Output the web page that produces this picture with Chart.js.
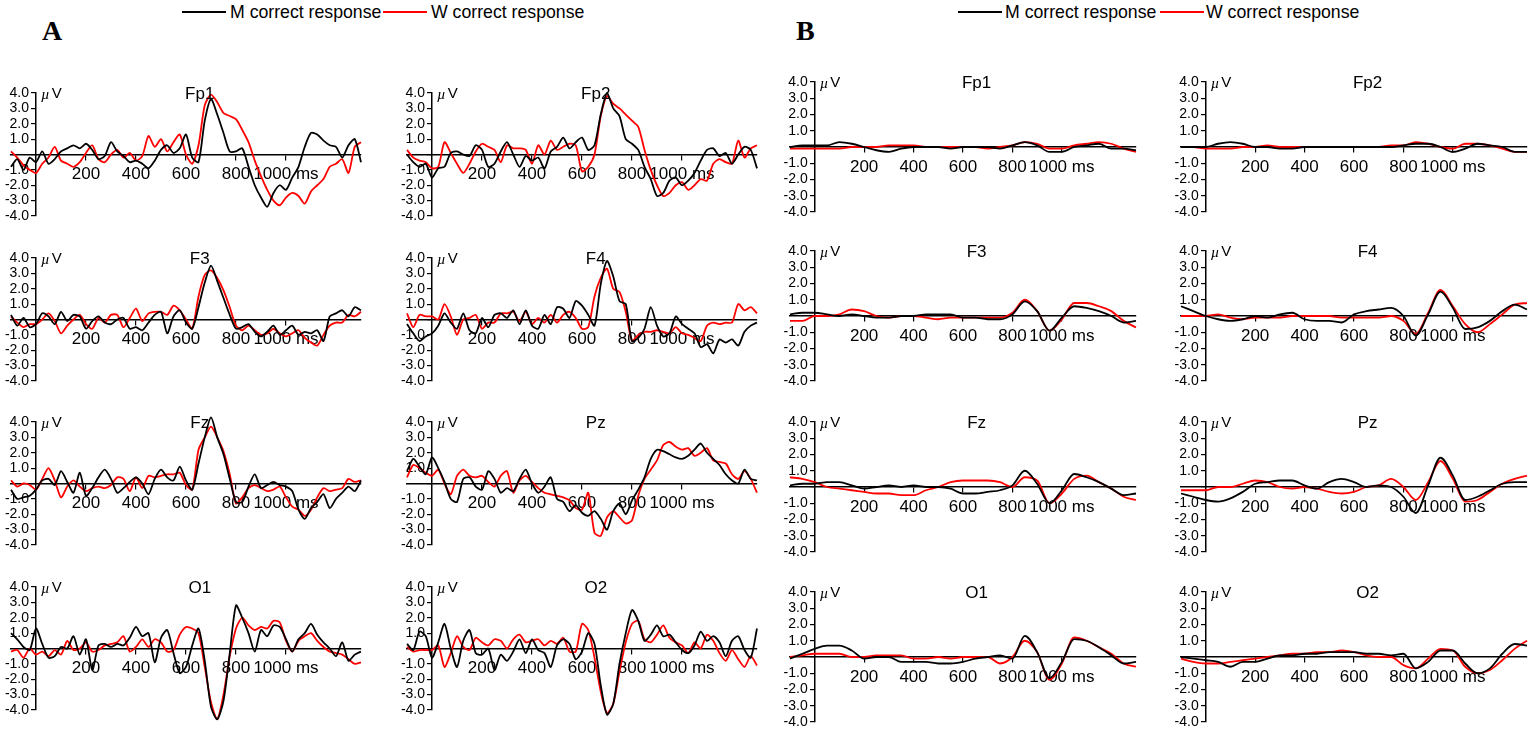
<!DOCTYPE html>
<html>
<head>
<meta charset="utf-8">
<script src="https://cdn.jsdelivr.net/npm/chart.js@4.4.1/dist/chart.umd.min.js"></script>
<style>
  body { margin: 0; background: #fff; width: 1535px; height: 734px; position: relative; overflow: hidden;
         font-family: "Liberation Sans", Arial, sans-serif; }
  canvas { position: absolute; }
  .lg { position: absolute; font-size: 17.7px; line-height: 20px; white-space: nowrap; color: #000; }
  .ln { position: absolute; height: 2px; }
  .pl { position: absolute; font-family: "Liberation Serif", "Times New Roman", serif; font-weight: bold; font-size: 28px; line-height: 28px; }
</style>
</head>
<body>
<div class="pl" style="left:42px;top:17px;">A</div>
<div class="pl" style="left:796px;top:17px;">B</div>

<div class="ln" style="left:182px;top:11px;width:44px;background:#000;"></div>
<div class="lg" style="left:230px;top:2px;">M correct response</div>
<div class="ln" style="left:383px;top:11px;width:44px;background:#f00;"></div>
<div class="lg" style="left:431px;top:2px;">W correct response</div>

<div class="ln" style="left:958px;top:11px;width:44px;background:#000;"></div>
<div class="lg" style="left:1005px;top:2px;">M correct response</div>
<div class="ln" style="left:1160px;top:11px;width:44px;background:#f00;"></div>
<div class="lg" style="left:1206px;top:2px;">W correct response</div>

<script>
// sample times (ms)
const tA = [-100, -75, -50, -25, 0, 25, 50, 75, 100, 125, 150, 175, 200, 225, 250, 275,
    300, 325, 350, 375, 400, 425, 450, 475, 500, 525, 550, 575, 600, 625, 650, 675,
    700, 725, 750, 775, 800, 825, 850, 875, 900, 925, 950, 975, 1000, 1025, 1050, 1075,
    1100, 1125, 1150, 1175, 1200, 1225, 1250, 1275, 1300];
const tB = [-100, -50, 0, 50, 100, 150, 200, 250, 300, 350, 400, 450, 500, 550, 600,
    650, 700, 750, 800, 850, 900, 950, 1000, 1050, 1100, 1150, 1200, 1250, 1300];

const xTicks = [200, 400, 600, 800, 1000];
const channels = ['Fp1', 'Fp2', 'F3', 'F4', 'Fz', 'Pz', 'O1', 'O2'];

// panel A (uV), M = black, W = red
const aFp1M = [-0.8, -0.3, -1.0, -0.2, -0.5, 0.2, -0.6, -0.3, 0.2, 0.4, 0.6, 0.4, 0.7, 0.3, -0.3, -0.1,
    0.8, 0.2, -0.1, -0.5, -0.4, -0.6, -0.9, -0.4, 0.3, 0.6, 0.1, 0.4, 1.3, -0.2, -0.5, 2.2,
    3.6, 2.6, 1.4, 0.2, 0.2, 0.4, -0.8, -2.0, -2.8, -3.4, -2.5, -2.0, -2.3, -1.5, -0.8, 0.5,
    1.4, 1.3, 0.9, 0.6, 0.5, -0.2, 0.6, 1.0, -0.5];
const aFp1W = [0.2, -0.2, -0.7, -1.0, -1.2, -0.6, -0.2, 0.5, -0.4, -0.6, -0.8, -0.5, 0.1, 0.6, -0.3, -0.5,
    0.0, 0.3, -0.2, 0.1, -0.4, -0.1, 1.2, 0.5, 1.0, 0.2, 0.8, 1.3, 0.0, -0.6, 0.6, 3.2,
    3.9, 3.4, 2.7, 2.5, 2.3, 1.6, 0.8, -0.4, -1.4, -2.3, -3.0, -3.3, -2.8, -2.5, -2.7, -3.2,
    -2.4, -2.0, -1.6, -0.8, -0.6, -0.3, -1.2, 0.5, 0.8];
const aFp2M = [0.0, -0.5, -0.8, -0.6, -1.5, -0.9, -0.8, 0.1, 0.2, 0.0, -0.1, 0.6, 0.3, -0.8, -0.6, 0.2,
    0.8, 0.0, -0.8, -0.1, -0.4, -0.2, -0.9, 0.2, 0.5, 1.1, 0.4, 0.8, 1.1, 0.3, 0.6, 2.6,
    4.0, 3.0, 2.5, 1.0, 0.7, 0.3, -0.8, -1.6, -2.7, -2.5, -1.7, -1.5, -2.0, -1.7, -1.2, -0.4,
    0.3, 0.4, -0.1, 0.1, -0.6, 0.0, 0.5, 0.3, -0.9];
const aFp2W = [0.3, -0.2, -0.4, -0.5, -0.9, -0.8, 0.8, 0.1, -0.6, -1.2, -0.6, 0.2, 0.7, 0.5, 0.3, -0.5,
    0.6, 0.4, 0.4, 0.3, -0.6, 0.6, 0.0, 0.9, 0.3, 0.5, 0.7, 0.6, -1.1, -0.8, 0.0, 2.5,
    3.8, 3.3, 3.0, 2.6, 2.2, 1.8, 0.3, -1.0, -2.0, -2.7, -2.5, -2.0, -1.8, -2.3, -2.0, -1.6,
    -1.7, -0.6, -0.3, -0.5, -0.6, 0.9, -0.2, 0.4, 0.6];
const aF3M = [0.3, -0.4, 0.1, -0.5, -0.3, 0.4, 0.2, -0.3, 0.5, -0.1, 0.3, 0.2, -0.6, -0.1, 0.2, -0.2,
    -0.3, 0.0, 0.1, -0.6, -0.5, -0.7, -0.2, 0.3, 0.5, -0.9, 0.2, 0.6, -0.2, -0.6, 0.8, 2.4,
    3.5, 2.5, 1.4, 0.3, -0.6, -0.5, -0.3, -0.8, -1.1, -0.8, -0.4, -1.0, -0.7, -0.4, -1.0, -0.8,
    -0.9, -0.7, -1.4, 0.2, 0.4, 0.6, 0.2, 0.8, 0.6];
const aF3W = [0.2, -0.2, -0.5, -0.3, -0.3, 0.0, 0.4, -0.1, -0.9, -0.4, 0.0, 0.3, -0.3, -0.6, 0.1, -0.2,
    0.3, 0.3, -0.5, 0.1, 0.7, -0.1, 0.4, 0.5, 0.5, 0.3, 0.9, 0.6, 0.0, -0.6, 1.5, 2.9,
    3.2, 2.7, 1.9, 0.8, -0.4, -0.7, -0.4, -0.7, -1.0, -0.9, -0.6, -0.9, -1.1, -0.9, -0.7, -1.2,
    -1.5, -1.7, -1.0, -0.4, -0.2, -0.2, 0.3, 0.2, 0.5];
const aF4M = [-0.3, -0.9, -1.4, -1.1, -0.9, -0.4, 0.4, -0.2, -0.6, 0.4, -0.7, -0.9, 0.1, -0.5, 0.3, 0.4,
    0.1, 0.6, -0.3, 0.6, -0.4, -0.6, 0.3, -0.3, 0.8, 0.7, 0.1, 1.2, 0.9, 0.3, -0.4, 2.3,
    3.8, 2.8, 1.2, 1.0, -1.4, -1.2, -0.6, 0.8, -0.4, -1.1, -0.9, 0.2, -0.3, -0.6, -0.9, -1.8,
    -1.6, -2.2, -1.3, -1.5, -1.3, -1.7, -0.8, -0.4, -0.2];
const aF4W = [0.4, -0.5, 0.3, 0.2, 0.2, 0.0, 1.0, 0.2, -1.0, 0.0, 0.1, 0.3, -0.6, -0.2, -0.2, 0.4,
    0.4, 0.5, -0.1, 0.5, -0.3, 0.1, -0.2, 0.3, -0.2, 0.3, 0.5, 0.1, -0.6, -0.5, 1.5, 2.7,
    3.3, 2.0, 1.8, 0.5, -1.4, -1.0, -0.8, -0.8, -0.7, -0.8, -0.9, -0.5, -0.9, -1.0, -1.2, -1.4,
    -0.4, -0.2, -0.3, -0.2, -0.2, 1.0, 0.6, 0.8, 0.4];
const aFzM = [-0.4, -1.0, -0.9, -0.8, -0.4, 0.2, 0.3, -0.1, 0.8, 0.1, -0.6, 0.7, -0.8, -0.3, 0.4, 0.9,
    0.3, -0.6, -0.3, 0.1, 0.4, 0.0, -0.7, 0.3, 0.9, 0.4, 0.2, 1.1, 0.2, -0.4, 1.3, 3.0,
    4.3, 3.0, 1.9, 0.3, -1.2, -1.2, -0.2, 0.6, -0.3, -0.1, 0.1, -0.1, -0.2, -0.5, -1.7, -2.3,
    -1.6, -1.2, -0.7, -1.6, -1.0, -0.6, -0.2, -0.5, 0.2];
const aFzW = [0.2, -0.2, 0.0, -0.1, -0.4, 0.3, 1.0, 0.2, -0.9, -0.2, 0.2, -0.2, -0.5, -0.3, -0.2, -0.3,
    -0.1, 0.4, 0.3, -0.5, 0.4, -0.3, 0.5, 0.4, 0.5, 0.6, 0.6, 0.7, -0.1, -0.4, 2.2, 3.0,
    3.7, 3.0, 2.1, 0.6, -1.3, -0.9, -0.3, -0.1, -0.3, -0.5, -0.4, -0.2, -0.9, -1.5, -1.7, -2.1,
    -1.7, -0.9, -0.3, -0.5, -0.4, -0.3, 0.3, 0.1, 0.2];
const aPzM = [0.8, 1.6, 1.1, 0.6, 1.7, 1.0, 0.1, -1.0, -1.2, 0.3, 0.4, -0.2, -0.4, 0.8, 0.3, -0.6,
    -0.3, -0.5, 0.3, 0.9, 0.0, -0.6, -0.2, 0.4, -1.0, -1.2, -1.8, -1.4, -1.9, -2.1, -1.8, -2.3,
    -3.0, -1.8, -1.3, -2.0, -1.1, -0.4, 0.4, 1.6, 2.2, 2.1, 1.9, 1.7, 1.6, 1.8, 2.2, 2.6,
    2.0, 1.6, 1.2, 0.6, 0.2, 0.0, 0.9, 0.3, 0.2];
const aPzW = [0.4, 1.2, 1.0, 0.7, 0.5, 0.9, 0.0, -0.7, 0.5, 0.9, 0.5, 0.4, 0.5, 0.1, -0.2, 0.5,
    0.8, -0.6, 0.2, 0.5, 0.1, -0.3, -0.6, -0.7, -0.8, -0.9, -1.1, -1.6, -1.7, -0.6, -3.2, -3.4,
    -2.2, -1.8, -2.2, -2.6, -2.4, -0.8, 0.3, 0.9, 1.5, 2.5, 2.7, 2.4, 2.2, 2.3, 1.8, 2.0,
    2.3, 1.5, 1.4, 1.3, 0.6, 0.3, 0.8, 0.3, -0.6];
const aO1M = [1.0, 0.6, 0.1, -0.1, 1.3, 0.3, -0.6, -0.5, 0.1, 0.0, 0.8, -0.4, 0.6, -1.4, 0.2, 0.3,
    0.1, 0.3, 0.2, 0.7, 1.4, 0.8, 1.0, -0.9, 0.7, 1.2, -0.3, -1.6, -1.2, 0.2, 1.3, -0.8,
    -3.8, -4.6, -3.4, -0.3, 2.8, 2.0, 1.0, -0.2, 1.2, 0.8, 1.5, 1.4, 0.6, -0.2, 0.6, 1.0,
    1.6, 0.9, 0.4, 0.0, -0.5, 0.4, -0.8, -0.4, -0.2];
const aO1W = [-0.2, -0.1, -0.6, 0.0, -0.4, -0.2, -0.5, -0.1, -0.4, 0.5, -0.1, 0.0, 0.4, -0.2, -0.1, 0.2,
    0.3, 0.4, 0.8, -0.2, 0.1, 0.6, 0.1, 0.6, 0.4, -0.2, -0.1, 0.9, 1.4, 1.3, 1.0, -1.2,
    -3.5, -4.6, -3.0, -0.5, 1.3, 2.0, 1.5, 1.2, 1.4, 1.3, 1.8, 1.7, 0.5, -0.2, 0.5, 0.8,
    1.0, 0.5, 0.1, -0.2, -0.3, -0.4, -0.7, -1.0, -0.9];
const aO2M = [0.3, -0.1, 1.1, 0.8, -0.6, 0.4, 1.6, 0.0, -1.2, 0.5, 1.2, -0.3, -0.4, 0.0, -1.4, -0.4,
    -0.8, -0.2, 0.6, -0.3, 0.6, -0.1, -0.3, -1.2, 0.2, 0.6, 0.3, -0.7, -0.2, 1.0, 0.3, -2.4,
    -4.3, -3.6, -1.0, 1.0, 2.5, 1.8, 0.5, 0.9, 1.5, 0.8, 0.9, 0.4, -0.1, -0.3, 0.2, 1.1,
    0.5, 0.8, 0.4, -0.5, 0.5, 0.8, -0.1, -0.6, 1.3];
const aO2W = [0.1, -0.2, -0.1, -0.1, -0.1, 0.2, -1.2, -0.3, 0.8, 0.1, -0.1, 0.7, 0.4, 0.2, 0.6, 0.5,
    0.0, 0.6, 0.9, 0.4, 0.5, 0.6, 0.2, 0.5, 0.3, 0.7, -0.2, -0.2, 1.6, 1.2, -0.6, -2.8,
    -4.2, -3.6, -1.5, 0.4, 1.6, 1.8, 0.6, 0.4, 0.9, 1.5, 0.7, 0.4, 0.2, -0.3, 0.4, 0.0,
    0.9, 0.5, -0.3, -0.8, -0.1, -0.7, -1.2, -0.5, -1.1];

// panel B (uV)
const bFp1M = [0.0, 0.1, 0.1, 0.1, 0.3, 0.2, 0.0, -0.2, -0.3, -0.1, 0.0, 0.0, 0.0, -0.1, 0.0,
    0.0, 0.0, -0.1, 0.1, 0.3, 0.1, -0.3, -0.3, 0.0, 0.1, 0.2, -0.1, -0.1, -0.2];
const bFp1W = [-0.1, -0.1, -0.1, -0.1, -0.1, 0.0, 0.0, 0.0, 0.1, 0.1, 0.1, 0.0, 0.0, 0.0, 0.0,
    0.0, -0.1, 0.0, 0.1, 0.3, 0.2, -0.1, -0.1, 0.1, 0.2, 0.3, 0.2, -0.1, -0.3];
const bFp2M = [0.0, 0.0, 0.0, 0.2, 0.3, 0.2, 0.0, 0.0, -0.1, -0.1, 0.0, 0.0, 0.0, 0.0, 0.0,
    0.0, 0.0, 0.0, 0.1, 0.2, 0.2, 0.0, -0.3, -0.1, 0.2, 0.1, 0.0, -0.3, -0.3];
const bFp2W = [0.0, 0.0, -0.1, -0.1, -0.1, 0.0, 0.0, 0.1, 0.0, 0.0, 0.0, 0.0, 0.0, 0.0, 0.0,
    0.0, 0.0, 0.1, 0.1, 0.3, 0.2, 0.0, -0.1, 0.2, 0.2, 0.1, -0.1, -0.3, -0.3];
const bF3M = [0.1, 0.2, 0.2, 0.1, 0.0, 0.1, 0.0, -0.1, -0.1, 0.0, 0.0, 0.1, 0.1, 0.1, -0.1,
    -0.1, -0.2, -0.2, 0.1, 0.9, 0.3, -0.9, -0.1, 0.6, 0.5, 0.3, 0.0, -0.4, -0.3];
const bF3W = [-0.3, -0.3, 0.0, 0.0, 0.1, 0.4, 0.3, 0.0, -0.1, 0.0, 0.0, -0.1, -0.2, -0.1, -0.1,
    -0.1, -0.1, -0.1, 0.2, 1.0, 0.3, -0.9, -0.2, 0.8, 0.8, 0.6, 0.3, -0.3, -0.7];
const bF4M = [0.6, 0.3, 0.0, -0.2, -0.3, -0.2, 0.0, -0.1, 0.1, 0.2, -0.2, -0.3, -0.3, -0.4, 0.1,
    0.3, 0.4, 0.5, 0.0, -1.2, 0.1, 1.5, 0.5, -0.8, -0.7, -0.3, 0.3, 0.7, 0.4];
const bF4W = [0.0, 0.0, 0.0, 0.1, -0.1, -0.2, -0.1, -0.1, -0.1, 0.0, 0.0, 0.0, 0.0, -0.1, -0.1,
    -0.1, -0.1, 0.0, -0.3, -1.1, 0.2, 1.6, 0.6, -0.5, -1.0, -0.5, 0.1, 0.7, 0.8];
const bFzM = [0.1, 0.2, 0.2, 0.3, 0.3, 0.1, -0.1, 0.0, 0.1, 0.0, 0.1, 0.0, 0.0, -0.1, -0.4,
    -0.4, -0.3, -0.2, 0.1, 1.0, 0.2, -1.0, -0.2, 0.8, 0.6, 0.3, -0.1, -0.5, -0.4];
const bFzW = [0.6, 0.5, 0.3, 0.0, -0.1, -0.2, -0.3, -0.4, -0.4, -0.5, -0.5, -0.2, 0.0, 0.3, 0.4,
    0.4, 0.4, 0.3, 0.0, 0.6, 0.4, -1.0, -0.4, 0.5, 0.7, 0.3, -0.1, -0.6, -0.8];
const bPzM = [-0.4, -0.6, -0.8, -0.9, -0.7, -0.3, 0.2, 0.3, 0.4, 0.4, 0.1, -0.1, 0.3, 0.5, 0.3,
    0.0, 0.1, 0.0, -0.6, -1.6, 0.1, 1.8, 0.7, -0.8, -0.6, -0.2, 0.2, 0.3, 0.3];
const bPzW = [-0.2, -0.2, -0.2, 0.0, 0.0, 0.2, 0.4, 0.3, 0.0, -0.1, 0.0, -0.1, -0.3, -0.4, -0.3,
    0.0, 0.1, 0.5, 0.0, -0.8, 0.3, 1.6, 0.5, -0.9, -0.8, -0.3, 0.2, 0.5, 0.7];
const bO1M = [-0.1, 0.2, 0.5, 0.7, 0.7, 0.4, -0.1, 0.0, 0.0, -0.3, -0.3, -0.3, -0.4, -0.4, -0.3,
    -0.1, 0.0, 0.1, -0.1, 1.3, 0.3, -1.3, -0.3, 1.1, 1.0, 0.6, 0.1, -0.4, -0.3];
const bO1W = [0.0, 0.1, 0.2, 0.2, 0.2, 0.0, 0.0, 0.1, 0.1, 0.1, -0.1, -0.1, 0.0, -0.1, 0.0,
    0.0, 0.0, -0.4, 0.0, 1.0, 0.3, -1.4, -0.4, 1.2, 1.0, 0.6, 0.2, -0.4, -0.6];
const bO2M = [0.0, -0.1, -0.2, -0.3, -0.6, -0.3, -0.3, -0.1, 0.1, 0.1, 0.2, 0.2, 0.3, 0.3, 0.3,
    0.2, 0.2, 0.1, 0.2, -0.7, -0.3, 0.4, 0.4, -0.4, -1.0, -0.7, 0.2, 0.8, 0.7];
const bO2W = [-0.1, -0.3, -0.4, -0.4, -0.3, -0.2, -0.1, 0.0, 0.1, 0.2, 0.2, 0.3, 0.3, 0.4, 0.3,
    0.1, 0.0, 0.0, -0.5, -0.7, -0.1, 0.5, 0.4, -0.6, -1.0, -0.8, -0.2, 0.5, 1.0];

const seriesA = [[aFp1M, aFp1W], [aFp2M, aFp2W], [aF3M, aF3W], [aF4M, aF4W],
                 [aFzM, aFzW], [aPzM, aPzW], [aO1M, aO1W], [aO2M, aO2W]];
const seriesB = [[bFp1M, bFp1W], [bFp2M, bFp2W], [bF3M, bF3W], [bF4M, bF4W],
                 [bFzM, bFzW], [bPzM, bPzW], [bO1M, bO1W], [bO2M, bO2W]];

// layout of the plot areas (pixels)
const colsA = [[10.5, 360.5], [406.7, 756.7]];
const colsB = [[789.6, 1135.8], [1181.4, 1527.6]];
const rowsA = [93.3, 258.3, 422, 586.5], hA = 123.4;
const rowsB = [82, 251, 422, 592], hB = 130;
const titleAt = 655;

const FONT = '"Liberation Sans", Arial, sans-serif';
Chart.defaults.font.family = FONT;
Chart.defaults.color = '#000';

const toPts = (t, v) => t.map((x, i) => ({ x: x, y: v[i] }));

const eegLabels = {
    id: 'eegLabels',
    afterDraw(chart) {
        const ctx = chart.ctx;
        const xs = chart.scales.x, ys = chart.scales.y;
        const top = ys.getPixelForValue(4);
        ctx.save();
        ctx.fillStyle = '#000';
        ctx.textBaseline = 'middle';
        ctx.textAlign = 'center';
        ctx.font = '17px ' + FONT;
        ctx.fillText(chart.options.plugins.eegLabels.title, xs.getPixelForValue(titleAt), top + 1);
        let ux = xs.getPixelForValue(0) + 5;
        ctx.textAlign = 'left';
        ctx.font = 'italic 15px "Liberation Serif", serif';
        ctx.fillText('\u00b5', ux, top + 2);
        ux += ctx.measureText('\u00b5').width + 2;
        ctx.font = '15px ' + FONT;
        ctx.fillText('V', ux, top + 1);
        ctx.restore();
    }
};

function makePanel(title, t, m, w, x0, x1, top, h, smooth) {
    const padL = 45, padR = 12, padT = 22, padB = 28;
    const cv = document.createElement('canvas');
    const cw = Math.round(x1 - x0) + padL + padR;
    const ch = Math.round(h) + padT + padB;
    cv.width = cw; cv.height = ch;
    cv.style.width = cw + 'px'; cv.style.height = ch + 'px';
    cv.style.left = (x0 - padL) + 'px';
    cv.style.top = (top - padT) + 'px';
    document.body.appendChild(cv);

    const line = (label, vals, color) => ({
        label: label,
        data: toPts(t, vals),
        borderColor: color,
        borderWidth: 1.8,
        pointRadius: 0,
        tension: smooth ? 0.4 : 0.25,
        cubicInterpolationMode: smooth ? 'monotone' : 'default',
        clip: false
    });

    new Chart(cv, {
        type: 'line',
        data: { datasets: [line('M correct response', m, '#000'), line('W correct response', w, '#ff0000')] },
        options: {
            responsive: false,
            animation: false,
            layout: { padding: { left: padL, right: padR, top: padT, bottom: padB } },
            plugins: { legend: { display: false }, tooltip: { enabled: false }, eegLabels: { title: title } },
            scales: {
                x: {
                    type: 'linear', min: -100, max: 1300, position: { y: 0 },
                    afterBuildTicks: s => { s.ticks = xTicks.map(v => ({ value: v })); },
                    ticks: {
                        autoSkip: false, maxRotation: 0, padding: 5, color: '#000',
                        font: { size: 17 },
                        callback: v => v === 1000 ? '1000 ms' : String(v)
                    },
                    grid: { drawOnChartArea: false, tickLength: 5, color: '#000', lineWidth: 1.2 },
                    border: { color: '#000', width: 1.5 }
                },
                y: {
                    type: 'linear', min: -4, max: 4, position: { x: 0 },
                    ticks: {
                        stepSize: 1, autoSkip: false, color: '#000',
                        font: { size: 14 },
                        callback: v => v === 0 ? '' : v.toFixed(1) + '\u2002'
                    },
                    grid: { drawOnChartArea: false, tickLength: 4, color: '#000', lineWidth: 1.2 },
                    border: { color: '#000', width: 1.5 }
                }
            }
        },
        plugins: [eegLabels]
    });
}

channels.forEach((name, i) => {
    const r = Math.floor(i / 2), c = i % 2;
    makePanel(name, tA, seriesA[i][0], seriesA[i][1], colsA[c][0], colsA[c][1], rowsA[r], hA, false);
    makePanel(name, tB, seriesB[i][0], seriesB[i][1], colsB[c][0], colsB[c][1], rowsB[r], hB, true);
});
</script>
</body>
</html>
